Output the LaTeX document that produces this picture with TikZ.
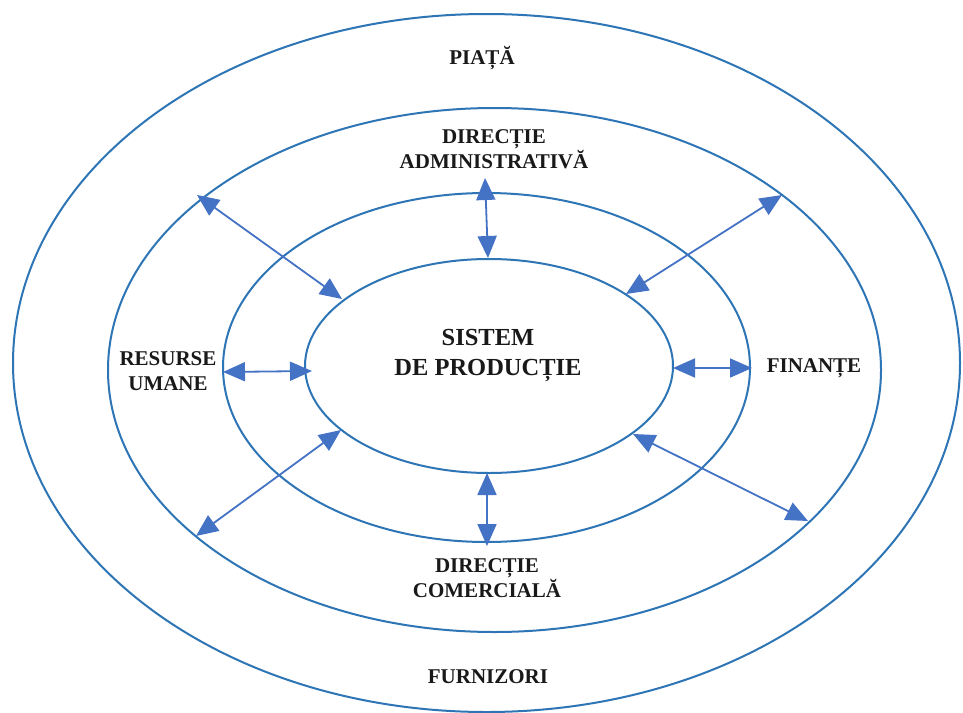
\documentclass[tikz,border=0pt]{standalone}
\usepackage{fontspec}
\setmainfont{Liberation Serif}
\usetikzlibrary{shapes.geometric,arrows.meta}
\definecolor{ringblue}{RGB}{46,117,182}
\definecolor{arrowblue}{RGB}{68,114,196}
\tikzset{
  ring/.style={draw=ringblue, line width=2pt, ellipse, inner sep=0pt},
  lbl/.style={font=\fontsize{21}{24.5}\selectfont\bfseries, align=center, inner sep=0pt, anchor=base, text=black!90},
  bigl/.style={font=\fontsize{24.5}{30}\selectfont\bfseries, align=center, inner sep=0pt, anchor=base, text=black!90},
  link/.style={draw=arrowblue, line width=1.8pt, {Triangle[length=22pt,width=19pt]}-{Triangle[length=22pt,width=19pt]}}
}
\begin{document}
\begin{tikzpicture}[x=1pt,y=-1pt]
\useasboundingbox (0,0) rectangle (963,712);
\fill[white] (0,0) rectangle (963,712);
% rings
\node[ring, minimum width=947pt, minimum height=698pt] (piata) at (486.5,363) {};
\node[ring, minimum width=773pt, minimum height=524pt] (mediu) at (494.5,370) {};
\node[ring, minimum width=527pt, minimum height=349pt] (firma) at (486.5,367.5) {};
\node[ring, minimum width=368pt, minimum height=214pt] (sistem) at (489,366) {};
% labels (base = baseline of last line)
\node[lbl] (tpiata) at (482,64) {PIAȚĂ};
\node[lbl] (tadmin) at (494,168) {DIRECȚIE\\ADMINISTRATIVĂ};
\node[bigl] (tsistem) at (488,375) {SISTEM\\DE PRODUCȚIE};
\node[lbl] (tres) at (168,390) {RESURSE\\UMANE};
\node[lbl] (tfin) at (814,372) {FINANȚE};
\node[lbl] (tcom) at (487,597) {DIRECȚIE\\COMERCIALĂ};
\node[lbl] (tfurn) at (488,683) {FURNIZORI};
% arrow end points
\coordinate (t1) at (485,178); \coordinate (t2) at (488,258);
\coordinate (b1) at (487,473); \coordinate (b2) at (487,546);
\coordinate (l1) at (223,372); \coordinate (l2) at (312,371);
\coordinate (r1) at (673,368); \coordinate (r2) at (752,368);
\coordinate (ul1) at (197,195); \coordinate (ul2) at (342,299);
\coordinate (ur1) at (782,195); \coordinate (ur2) at (626,294);
\coordinate (ll1) at (196,536); \coordinate (ll2) at (341,430);
\coordinate (lr1) at (633,434); \coordinate (lr2) at (808,521);
\draw[link] (t1) -- (t2);
\draw[link] (b1) -- (b2);
\draw[link] (l1) -- (l2);
\draw[link] (r1) -- (r2);
\draw[link] (ul1) -- (ul2);
\draw[link] (ur1) -- (ur2);
\draw[link] (ll1) -- (ll2);
\draw[link] (lr1) -- (lr2);
\end{tikzpicture}
\end{document}
